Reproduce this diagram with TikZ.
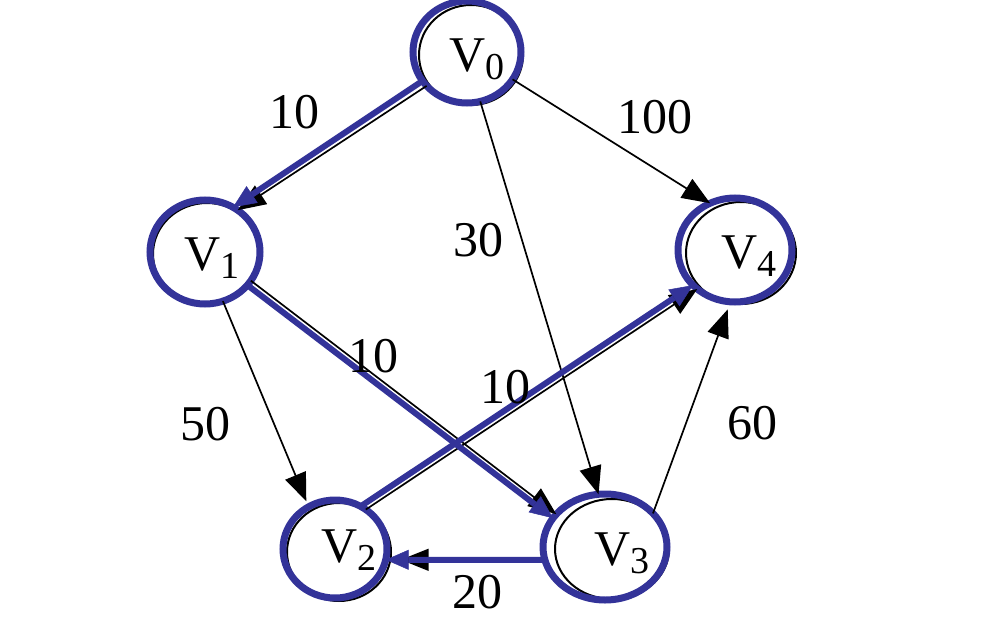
\documentclass[tikz,border=0pt]{standalone}
\usepackage{fontspec}
\setmainfont{Liberation Serif}
\usetikzlibrary{arrows.meta,shapes.geometric}
\definecolor{hblue}{RGB}{51,51,153}
\newcommand{\vsub}[1]{V\raisebox{-8pt}{\fontsize{38}{38}\selectfont #1}}
\begin{document}
\begin{tikzpicture}[x=1pt,y=-1pt,
  bring/.style={draw=hblue,line width=7pt,ellipse,inner sep=0pt,outer sep=0pt},
  kring/.style={draw=black,line width=2pt,ellipse,inner sep=0pt,outer sep=0pt},
  plain/.style={draw=black,line width=1.7pt,-{Triangle[length=28pt,width=22pt]}},
  hi/.style={draw=hblue,line width=6pt,-{Triangle[length=23pt,width=20pt,line width=0.5pt]}},
  wt/.style={font=\fontsize{50}{50}\selectfont,inner sep=0pt,anchor=base},
  vt/.style={font=\fontsize{50}{50}\selectfont,inner sep=0pt,anchor=base west}]
\useasboundingbox (0,0) rectangle (1004,626);
% black (original) rings
\node[kring,minimum width=104pt,minimum height=100pt] (k0) at (471,55) {};
\node[kring,minimum width=108pt,minimum height=102pt] (k1) at (207,254) {};
\node[kring,minimum width=104pt,minimum height=98pt] (k2) at (339,552) {};
\node[kring,minimum width=114pt,minimum height=100pt] (k3) at (612,549) {};
\node[kring,minimum width=110pt,minimum height=102pt] (k4) at (741,253) {};
% blue rings
\node[bring,minimum width=108pt,minimum height=102pt] (b0) at (467,52) {};
\node[bring,minimum width=110pt,minimum height=104pt] (b1) at (205,252) {};
\node[bring,minimum width=104pt,minimum height=98pt] (b2) at (335,549) {};
\node[bring,minimum width=124pt,minimum height=106pt] (b3) at (605,547) {};
\node[bring,minimum width=114pt,minimum height=104pt] (b4) at (735,250) {};
% black edges
\draw[plain] (b0.-31) -- (b4.118);
\draw[plain] (b0.-75) -- (b3.97);
\draw[plain,shorten >=6pt] (b1.-70) -- (b2.122);
\draw[plain] (b0.220) -- (b1.52);
\draw[plain] (b1.-32) -- (b3.146);
\draw[plain] (b2.52) -- (b4.226);
\draw[plain,shorten >=15pt] (b3.192) -- (b2.-12);
\draw[plain,shorten >=8pt] (b3.35) -- (b4.265);
% highlighted edges
\draw[hi] (b0.213) -- (b1.58);
\draw[hi] (b1.-38) -- (b3.151);
\draw[hi] (b2.59) -- (b4.220);
\draw[hi] (b3.192) -- (b2.-12);
% vertex labels
\node[vt] (t0) at (449,72) {\vsub{0}};
\node[vt] (t1) at (184,270) {\vsub{1}};
\node[vt] (t2) at (321,562) {\vsub{2}};
\node[vt] (t3) at (594,565) {\vsub{3}};
\node[vt] (t4) at (721,268) {\vsub{4}};
% weights
\node[wt] (w01) at (294,128) {10};
\node[wt] (w04) at (655,133) {100};
\node[wt] (w03) at (478,256) {30};
\node[wt] (w13) at (373,372) {10};
\node[wt] (w24) at (505,403) {10};
\node[wt] (w12) at (205,440) {50};
\node[wt] (w34) at (752,439) {60};
\node[wt] (w32) at (477,608) {20};
\end{tikzpicture}
\end{document}
